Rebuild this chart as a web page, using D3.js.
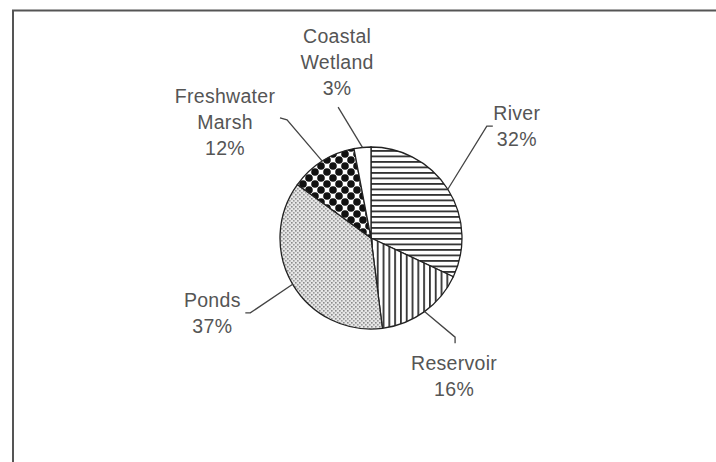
<!DOCTYPE html>
<html lang="en">
<head>
  <meta charset="UTF-8">
  <title>Wetland types</title>
  <script src="https://d3js.org/d3.v7.min.js"></script>
  <style>
    body {
      margin: 0;
      background: #fff;
      font-family: Arial, "Liberation Sans", sans-serif;
    }

    svg {
      display: block;
    }

    .slice {
      stroke: #222;
      stroke-width: 1.3;
    }

    .leader {
      fill: none;
      stroke: #444;
      stroke-width: 1.3;
    }

    .label {
      font-size: 19.5px;
      fill: #555;
      text-anchor: middle;
      letter-spacing: 0.3px;
    }
  </style>
</head>
<body>
  <svg id="chart"></svg>
  <script>
    // data, clockwise from 12 o'clock
    const categories = ["River", "Reservoir", "Ponds", "Freshwater Marsh", "Coastal Wetland"];
    const shares = [32, 16, 37, 12, 3];
    const labelLines = [
      ["River", "32%"],
      ["Reservoir", "16%"],
      ["Ponds", "37%"],
      ["Freshwater", "Marsh", "12%"],
      ["Coastal", "Wetland", "3%"]
    ];
    const fills = ["url(#hlines)", "url(#vlines)", "url(#stipple)", "url(#dots)", "#fff"];

    // label / leader placement: bend point in polar form, short tick, text offset
    const bendAngle = [46, 139.7, 238.2, 324.6, 345.9];
    const bendRadius = [161, 130, 142, 145, 135];
    const tickOffset = [[6, 0], [0, 6], [-5, 0], [-7, -2], [0, 0]];
    const textOffset = [[30, -6], [-1, 33], [-38, -6], [-62, -17], [-1, -64]];

    const width = 716;
    const height = 462;
    const cx = 371;
    const cy = 238;
    const radius = 91;
    const lineGap = 26;

    const svg = d3.select("#chart")
      .attr("width", width)
      .attr("height", height);

    // patterns
    const defs = svg.append("defs");

    const hl = defs.append("pattern")
      .attr("id", "hlines")
      .attr("patternUnits", "userSpaceOnUse")
      .attr("width", 6).attr("height", 5.5);
    hl.append("rect").attr("width", 6).attr("height", 5.5).attr("fill", "#fff");
    hl.append("rect").attr("y", 0).attr("width", 6).attr("height", 1.8).attr("fill", "#333");

    const vl = defs.append("pattern")
      .attr("id", "vlines")
      .attr("patternUnits", "userSpaceOnUse")
      .attr("width", 5.8).attr("height", 6);
    vl.append("rect").attr("width", 5.8).attr("height", 6).attr("fill", "#fff");
    vl.append("rect").attr("x", 0).attr("width", 1.8).attr("height", 6).attr("fill", "#333");

    const st = defs.append("pattern")
      .attr("id", "stipple")
      .attr("patternUnits", "userSpaceOnUse")
      .attr("width", 4).attr("height", 4);
    st.append("rect").attr("width", 4).attr("height", 4).attr("fill", "#e6e6e6");
    st.append("rect").attr("x", 0).attr("y", 0).attr("width", 1.6).attr("height", 1.6).attr("fill", "#8a8a8a");
    st.append("rect").attr("x", 2).attr("y", 2).attr("width", 1.6).attr("height", 1.6).attr("fill", "#9a9a9a");

    const dt = defs.append("pattern")
      .attr("id", "dots")
      .attr("patternUnits", "userSpaceOnUse")
      .attr("x", cx - 1).attr("y", cy + 2)
      .attr("width", 12).attr("height", 12);
    dt.append("rect").attr("width", 12).attr("height", 12).attr("fill", "#fff");
    [[0, 0], [12, 0], [0, 12], [12, 12], [6, 6]].forEach(p => {
      dt.append("circle").attr("cx", p[0]).attr("cy", p[1]).attr("r", 3.8).attr("fill", "#111");
    });

    // frame
    svg.append("path")
      .attr("d", `M13,${height} V10.5 H${width}`)
      .attr("fill", "none")
      .attr("stroke", "#555")
      .attr("stroke-width", 2);

    // pie
    const pie = d3.pie().sort(null).value(d => d);
    const arcs = pie(shares);
    const arc = d3.arc().innerRadius(0).outerRadius(radius);
    const edge = d3.arc().innerRadius(radius).outerRadius(radius);

    const g = svg.append("g").attr("transform", `translate(${cx},${cy})`);

    g.selectAll(".slice")
      .data(arcs)
      .enter()
      .append("path")
      .attr("class", "slice")
      .attr("d", arc)
      .attr("fill", (d, i) => fills[i]);

    // leaders and labels
    const toRad = Math.PI / 180;
    arcs.forEach((d, i) => {
      const start = edge.centroid(d);
      const bend = d3.pointRadial(bendAngle[i] * toRad, bendRadius[i]);
      const end = [bend[0] + tickOffset[i][0], bend[1] + tickOffset[i][1]];

      g.append("path")
        .attr("class", "leader")
        .attr("d", d3.line()([start, bend, end]));

      const text = g.append("text").attr("class", "label");

      labelLines[i].forEach((line, k) => {
        text.append("tspan")
          .attr("x", bend[0] + textOffset[i][0])
          .attr("y", bend[1] + textOffset[i][1] + k * lineGap)
          .text(line);
      });
    });
  </script>
</body>
</html>
